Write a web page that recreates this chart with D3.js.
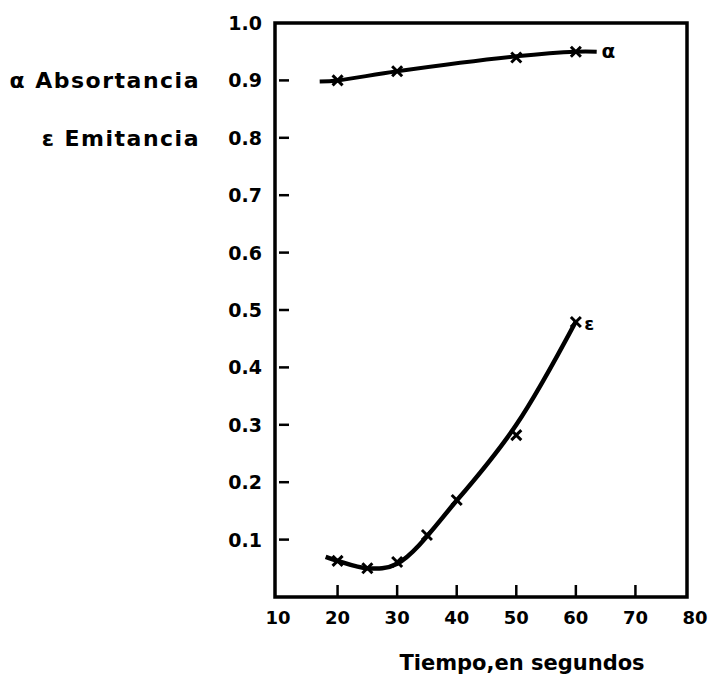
<!DOCTYPE html>
<html><head><meta charset="utf-8">
<script src="https://cdn.jsdelivr.net/npm/d3@7"></script>
<style>body{margin:0;background:#fff}svg{display:block}text{font-family:"DejaVu Sans",sans-serif;font-weight:bold;fill:#000}</style>
</head><body><svg id="c" width="711" height="676"></svg>
<script>
const xTicks = [10,20,30,40,50,60,70,80];
const yTicks = [0.1,0.2,0.3,0.4,0.5,0.6,0.7,0.8,0.9,1.0];
const yTickLabels = ["0.1","0.2","0.3","0.4","0.5","0.6","0.7","0.8","0.9","1.0"];
// Absortancia (alpha)
const alphaX = [20,30,50,60];
const alphaY = [0.90,0.916,0.94,0.95];
const alphaCurveX = [17,20,30,50,60,63.5];
const alphaCurveY = [0.898,0.90,0.916,0.942,0.95,0.95];
// Emitancia (epsilon)
const epsX = [20,25,30,35,40,50,60];
const epsY = [0.063,0.05,0.061,0.108,0.169,0.282,0.479];
const epsCurveX = [18,20,25,30,40,50,60];
const epsCurveY = [0.07,0.063,0.05,0.058,0.168,0.30,0.48];

const svg = d3.select("#c");
const x = d3.scaleLinear().domain([10,80]).range([278,695]);
const y = d3.scaleLinear().domain([0,1]).range([597,23]);

// frame
svg.append("path").attr("d","M275,23 L687,23 L687,597 L275,597 Z")
  .attr("fill","none").attr("stroke","#000").attr("stroke-width",3.5);

// y ticks (inside) and labels
svg.selectAll(".yt").data(yTicks.filter(d=>d<1)).enter().append("line")
  .attr("x1",279).attr("x2",289).attr("y1",d=>y(d)).attr("y2",d=>y(d))
  .attr("stroke","#000").attr("stroke-width",2.5);
svg.selectAll(".yl").data(yTicks).enter().append("text")
  .attr("x",262).attr("y",d=>y(d)+7).attr("text-anchor","end")
  .attr("font-size",19).text((d,i)=>yTickLabels[i]);

// x ticks (inside) and labels
svg.selectAll(".xt").data(xTicks.filter(d=>d>10&&d<80)).enter().append("line")
  .attr("x1",d=>x(d)).attr("x2",d=>x(d)).attr("y1",585).attr("y2",596)
  .attr("stroke","#000").attr("stroke-width",2.5);
svg.selectAll(".xl").data(xTicks).enter().append("text")
  .attr("x",d=>x(d)).attr("y",624).attr("text-anchor","middle")
  .attr("font-size",18).text(d=>d);

// curves
const line = d3.line().x(d=>x(d[0])).y(d=>y(d[1])).curve(d3.curveCatmullRom.alpha(0.5));
svg.append("path").attr("d",line(alphaCurveX.map((v,i)=>[v,alphaCurveY[i]])))
  .attr("fill","none").attr("stroke","#000").attr("stroke-width",4);
svg.append("path").attr("d",line(epsCurveX.map((v,i)=>[v,epsCurveY[i]])))
  .attr("fill","none").attr("stroke","#000").attr("stroke-width",4.5);

// markers
function marks(xs,ys){
  const s=5;
  xs.forEach((v,i)=>{
    const cx=x(v), cy=y(ys[i]);
    svg.append("path").attr("d",`M${cx-s},${cy-s}L${cx+s},${cy+s}M${cx-s},${cy+s}L${cx+s},${cy-s}`)
      .attr("stroke","#000").attr("stroke-width",3);
  });
}
marks(alphaX,alphaY);
marks(epsX,epsY);

// series labels
svg.append("text").attr("x",x(64.3)).attr("y",y(0.95)+6).attr("font-size",20).text("α");
svg.append("text").attr("x",x(61.4)).attr("y",y(0.475)+6).attr("font-size",18).text("ε");

// legend text
svg.append("text").attr("x",200).attr("y",y(0.9)+8).attr("text-anchor","end").attr("font-size",22).attr("letter-spacing",1.5).text("α Absortancia");
svg.append("text").attr("x",200).attr("y",y(0.8)+8).attr("text-anchor","end").attr("font-size",22).attr("letter-spacing",1.5).text("ε Emitancia");

// axis title
svg.append("text").attr("x",522).attr("y",670).attr("text-anchor","middle").attr("font-size",21).text("Tiempo,en segundos");
</script></body></html>
